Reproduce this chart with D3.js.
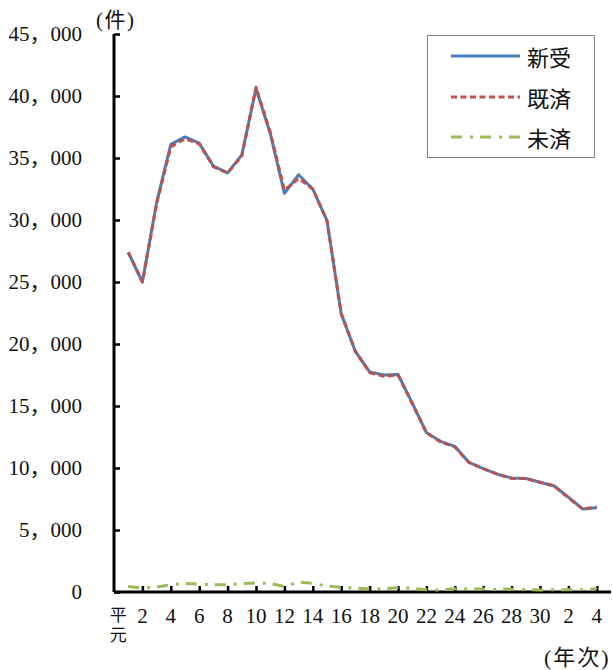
<!DOCTYPE html>
<html>
<head>
<meta charset="utf-8">
<script src="https://cdn.jsdelivr.net/npm/d3@7"></script>
<style>
html,body{margin:0;padding:0;background:#fff;}
svg{display:block;}
.num{font-family:"Liberation Serif","DejaVu Serif","Noto Sans CJK JP",serif;}
.cjk{font-family:"Noto Sans CJK JP","Liberation Serif",sans-serif;}
</style>
</head>
<body>
<svg id="chart" width="612" height="670"></svg>
<script>
// ---- data ----
const years = d3.range(1, 35); // 平成元年 … 令和4年 (index 1..34)
const shinju = [27400, 25000, 31400, 36100, 36700, 36200, 34350, 33800, 35250, 40600,
                37000, 32150, 33650, 32500, 29950, 22450, 19400, 17750, 17500, 17550,
                15250, 12850, 12150, 11750, 10450, 9950, 9500, 9200, 9150, 8850,
                8550, 7650, 6700, 6800];
const kisai  = [27400, 25000, 31300, 35900, 36550, 36150, 34300, 33800, 35150, 40700,
                37100, 32400, 33350, 32500, 29950, 22450, 19400, 17700, 17400, 17500,
                15200, 12850, 12100, 11700, 10450, 9950, 9500, 9150, 9150, 8850,
                8550, 7600, 6700, 6850];
const misai  = [450, 320, 400, 580, 690, 640, 580, 580, 690, 730,
                680, 450, 800, 700, 480, 380, 320, 240, 260, 350,
                290, 190, 160, 260, 240, 240, 200, 240, 190, 160,
                190, 190, 200, 260];
const xTickPos = [2,4,6,8,10,12,14,16,18,20,22,24,26,28,30,32,34];
const xTickLabels = ["2","4","6","8","10","12","14","16","18","20","22","24","26","28","30","2","4"];
const yTicks = [0,5000,10000,15000,20000,25000,30000,35000,40000,45000];
const seriesNames = ["新受","既済","未済"];

// ---- layout ----
const svg = d3.select("#chart");
const x = d3.scaleLinear().domain([0, 35]).range([114, 611]);
const y = d3.scaleLinear().domain([0, 45000]).range([592, 34]);

// y axis
const yAxis = d3.axisRight(y).tickValues(yTicks).tickSize(6).tickFormat("");
const gy = svg.append("g").attr("transform", "translate(114,0)").call(yAxis);
gy.select(".domain").attr("stroke","#000").attr("stroke-width",3).attr("d", `M0,${y(45000)}V${y(0)}`);
gy.selectAll(".tick line").attr("stroke","#000").attr("stroke-width",2.5);

svg.append("g").selectAll("text").data(yTicks).join("text")
  .attr("class","num")
  .attr("x", 82).attr("y", d => y(d) + 7)
  .attr("text-anchor","end")
  .attr("font-size", 21).attr("fill","#111")
  .text(d => d === 0 ? "0" : d3.format(",")(d).replace(",", "，"));

// x axis
const xAxis = d3.axisTop(x).tickValues(xTickPos).tickSize(6).tickFormat("");
const gx = svg.append("g").attr("transform", "translate(0,592)").call(xAxis);
gx.select(".domain").attr("stroke","#000").attr("stroke-width",3).attr("d", `M${x(0)},0H${x(35)}`);
gx.selectAll(".tick line").attr("stroke","#000").attr("stroke-width",2.5);

svg.append("g").selectAll("text").data(xTickPos).join("text")
  .attr("class","num")
  .attr("x", d => x(d)).attr("y", 623)
  .attr("text-anchor","middle")
  .attr("font-size", 21).attr("fill","#111")
  .text((d,i) => xTickLabels[i]);

// 平元 (vertical)
svg.append("text").attr("class","cjk")
  .attr("x", x(1) - 10).attr("y", 606)
  .style("writing-mode","vertical-rl").attr("letter-spacing", 3)
  .attr("font-size", 17).attr("fill","#111").text("平元");

// unit labels
svg.append("text").attr("class","num").attr("x", 96).attr("y", 27)
  .attr("font-size", 21).attr("fill","#111").attr("letter-spacing", 1.5).text("(件)");
svg.append("text").attr("class","num").attr("x", 544).attr("y", 665)
  .attr("font-size", 22).attr("fill","#111").attr("letter-spacing", 2).text("(年次)");

// lines
const line = d3.line().x((d,i) => x(years[i])).y(d => y(d));
const styles = [
  {data: shinju, color:"#4a7ebb", width:3, dash:null},
  {data: kisai,  color:"#c0504d", width:3, dash:"6,3.5"},
  {data: misai,  color:"#9bbb59", width:3, dash:"11,8,3,7"}
];
styles.forEach(s => {
  svg.append("path").datum(s.data)
    .attr("d", line).attr("fill","none")
    .attr("stroke", s.color).attr("stroke-width", s.width)
    .attr("stroke-dasharray", s.dash)
    .attr("stroke-linejoin","round");
});

// legend
const lg = svg.append("g");
lg.append("rect").attr("x", 427.5).attr("y", 35.5).attr("width", 167).attr("height", 122)
  .attr("fill","#fff").attr("stroke","#7f7f7f").attr("stroke-width",1);
const rowY = [56, 97, 137];
styles.forEach((s,i) => {
  lg.append("line").attr("x1", 451).attr("x2", 520).attr("y1", rowY[i]).attr("y2", rowY[i])
    .attr("stroke", s.color).attr("stroke-width", 3).attr("stroke-dasharray", s.dash);
  lg.append("text").attr("class","cjk").attr("x", 527).attr("y", rowY[i]).attr("dominant-baseline","central")
    .attr("font-size", 22).attr("fill","#111").text(seriesNames[i]);
});
</script>
</body>
</html>
